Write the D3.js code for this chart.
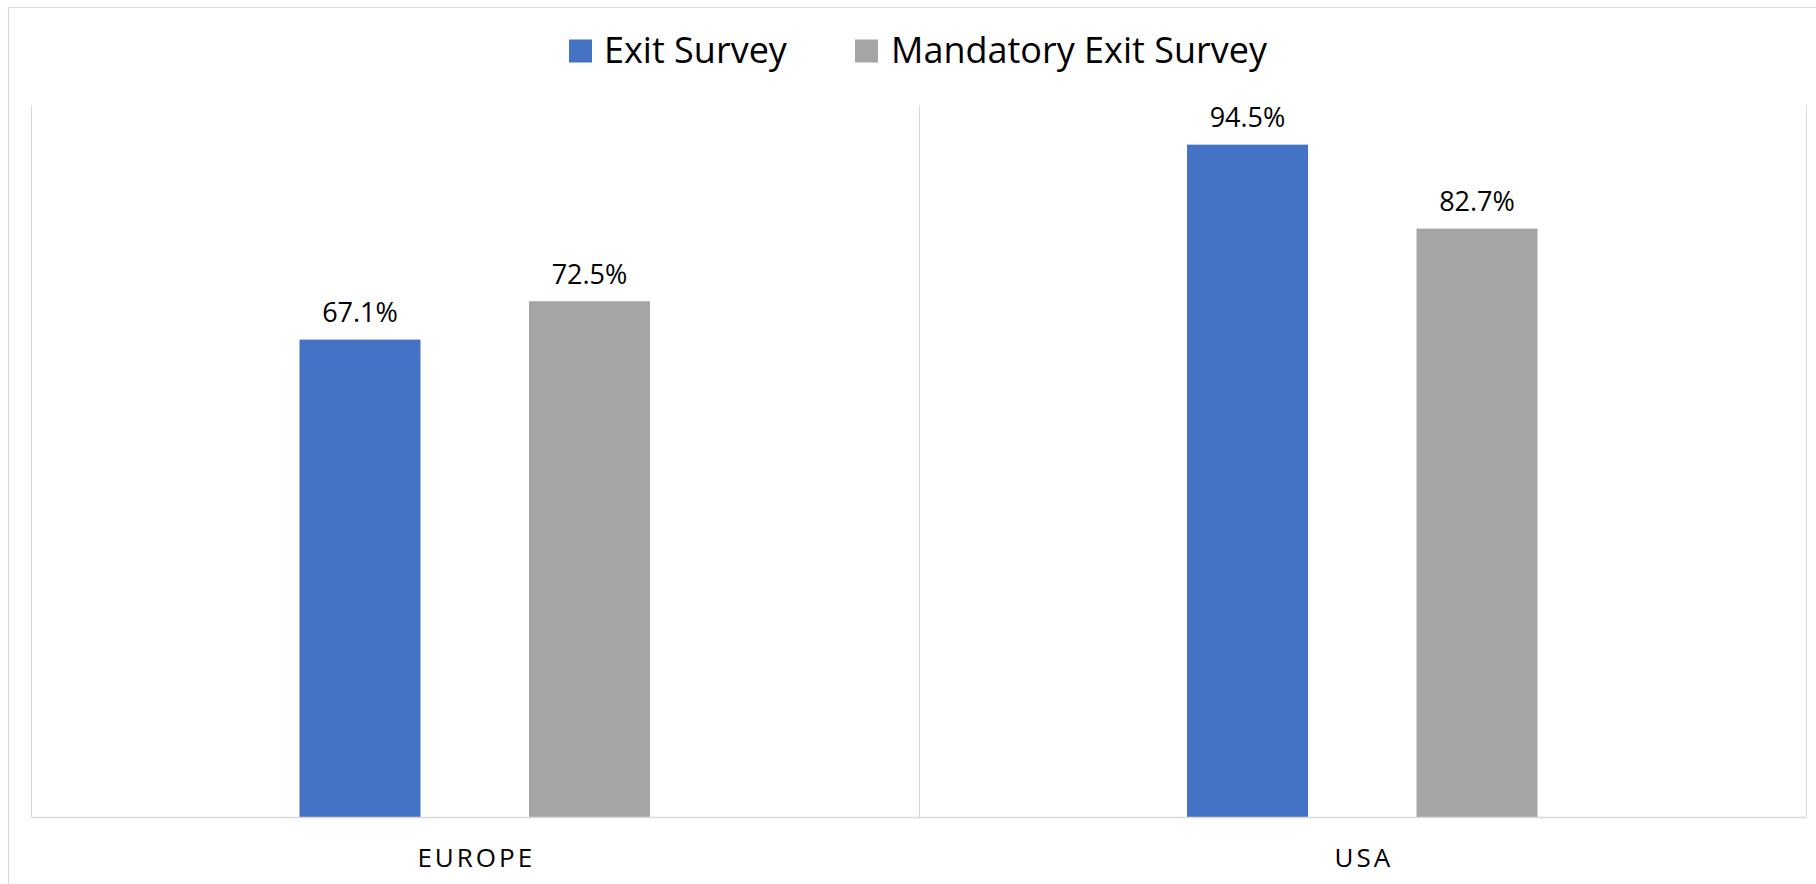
<!DOCTYPE html>
<html>
<head>
<meta charset="utf-8">
<script src="https://cdn.jsdelivr.net/npm/d3@7"></script>
<style>
  html, body { margin: 0; padding: 0; background: #fff; }
  svg { display: block; font-family: "Open Sans", "Noto Sans", sans-serif; }
</style>
</head>
<body>
<svg id="chart" width="1816" height="884"></svg>
<script>
const categories = ["EUROPE", "USA"];
const seriesNames = ["Exit Survey", "Mandatory Exit Survey"];
const exitSurvey = [67.1, 94.5];
const mandatoryExitSurvey = [72.5, 82.7];
const seriesColors = ["#4472C4", "#A5A5A5"];
const yDomain = [0, 100];

const seriesValues = [exitSurvey, mandatoryExitSurvey];
const data = categories.map((c, i) => ({
  category: c,
  values: seriesNames.map((s, j) => ({ series: s, value: seriesValues[j][i] }))
}));

const svg = d3.select("#chart");
const plot = { left: 31, right: 1806, top: 105.5, bottom: 817 };

// outer chart border
svg.append("path")
  .attr("d", `M8.5,884 V7.5 H1816`)
  .attr("fill", "none").attr("stroke", "#d9d9d9").attr("stroke-width", 1.2);

const x0 = d3.scaleBand().domain(categories).range([plot.left, plot.right]).padding(0);
const x1 = d3.scaleBand().domain(seriesNames).range([0, x0.bandwidth()])
  .paddingInner(0.4728).paddingOuter(1.17);
const y = d3.scaleLinear().domain(yDomain).range([plot.bottom, plot.top]);
const color = d3.scaleOrdinal().domain(seriesNames).range(seriesColors);

// vertical category separators
const seps = [x0.range()[0], ...categories.slice(1).map(c => x0(c)), x0.range()[1]];
svg.append("g").selectAll("line").data(seps).join("line")
  .attr("x1", d => Math.round(d) + 0.5).attr("x2", d => Math.round(d) + 0.5)
  .attr("y1", y(yDomain[1])).attr("y2", plot.bottom)
  .attr("stroke", "#d9d9d9").attr("stroke-width", 1);

// bars
const groups = svg.append("g").selectAll("g").data(data).join("g")
  .attr("transform", d => `translate(${x0(d.category)},0)`);

groups.selectAll("rect").data(d => d.values).join("rect")
  .attr("x", d => x1(d.series))
  .attr("y", d => y(d.value))
  .attr("width", x1.bandwidth())
  .attr("height", d => y(0) - y(d.value))
  .attr("fill", d => color(d.series));

groups.selectAll("text").data(d => d.values).join("text")
  .attr("x", d => x1(d.series) + x1.bandwidth() / 2)
  .attr("y", d => y(d.value) - 17.5)
  .attr("text-anchor", "middle")
  .attr("font-size", 27)
  .attr("fill", "#000")
  .text(d => d.value.toFixed(1) + "%");

// x axis baseline
const xAxis = d3.axisBottom(x0).tickSize(0).tickPadding(0);
const ax = svg.append("g").attr("transform", `translate(0,${plot.bottom})`).call(xAxis);
ax.select(".domain").attr("stroke", "#d9d9d9").attr("stroke-width", 1.5);
ax.selectAll(".tick text")
  .attr("font-size", 26)
  .attr("font-family", "'Open Sans', 'Noto Sans', sans-serif")
  .attr("fill", "#000")
  .attr("letter-spacing", 3)
  .attr("dy", null)
  .attr("y", 49.7)
  .attr("dx", 1.5);

// legend
const legendItems = [
  { name: seriesNames[0], sx: 569, tx: 604 },
  { name: seriesNames[1], sx: 855, tx: 891 }
];
const lg = svg.append("g");
const li = lg.selectAll("g").data(legendItems).join("g");
li.append("rect")
  .attr("x", d => d.sx).attr("y", 39.5)
  .attr("width", 23).attr("height", 23)
  .attr("fill", d => color(d.name));
li.append("text")
  .attr("x", d => d.tx).attr("y", 63)
  .attr("font-size", 36)
  .attr("fill", "#000")
  .text(d => d.name);
</script>
</body>
</html>
